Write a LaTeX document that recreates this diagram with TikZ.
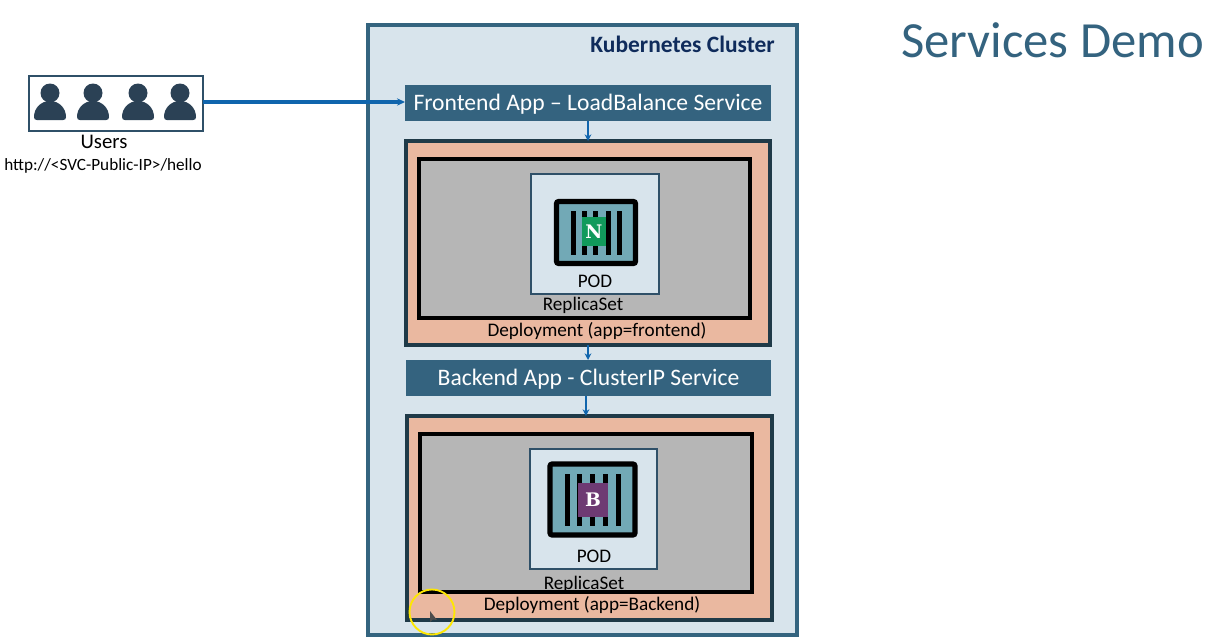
\documentclass[tikz,border=0pt]{standalone}
\usepackage{fontspec}
\setmainfont{Carlito}
\newfontfamily\appfont{DejaVu Serif}
\definecolor{clusterfill}{HTML}{D8E4EC}
\definecolor{clusterline}{HTML}{34647F}
\definecolor{svcfill}{HTML}{34637F}
\definecolor{depfill}{HTML}{EAB8A0}
\definecolor{depline}{HTML}{1F3A48}
\definecolor{rsfill}{HTML}{B6B6B6}
\definecolor{podline}{HTML}{2F5068}
\definecolor{ctfill}{HTML}{72A9B6}
\definecolor{arrowblue}{HTML}{1065AD}
\definecolor{person}{HTML}{2B4155}
\definecolor{titleblue}{HTML}{34637F}
\definecolor{clustertext}{HTML}{0F2B5B}
\definecolor{ngreen}{HTML}{119A5B}
\definecolor{bpurple}{HTML}{6E3A73}
\newcommand{\pxbox}[7]{%
  \pgfmathsetmacro{\bw}{(#5-#3)*0.75}%
  \pgfmathsetmacro{\bh}{(#6-#4)*0.75}%
  \pgfmathsetmacro{\bx}{(#3+#5)/2}%
  \pgfmathsetmacro{\by}{(#4+#6)/2}%
  \node[#2,minimum width=\bw pt,minimum height=\bh pt] (#1) at (\bx,\by) {#7};}
\newcommand{\personicon}[1]{%
  \fill[person,shift={(#1,0)}] (0,93) circle (9.5);
  \fill[person,shift={(#1,0)}] (-16,117) .. controls (-16,108) and (-9,101) .. (0,101)
     .. controls (9,101) and (16,108) .. (16,117)
     .. controls (16,119) and (15,120) .. (13,120) -- (-13,120)
     .. controls (-15,120) and (-16,119) .. (-16,117) -- cycle;}
\newcommand{\bars}[3]{\foreach \xx in {#1} \fill[black] (\xx-2.5,#2) rectangle (\xx+2.5,#3);}
\usetikzlibrary{arrows.meta}
\tikzset{
  x=0.75pt,y=-0.75pt,
  basebox/.style={rectangle,inner sep=0pt,outer sep=0pt},
  clusterbox/.style={basebox,draw=clusterline,fill=clusterfill,line width=3pt},
  svcbox/.style={basebox,fill=svcfill,text=white,font=\fontsize{17.7pt}{20pt}\selectfont},
  depbox/.style={basebox,draw=depline,fill=depfill,line width=2.4pt},
  rsbox/.style={basebox,draw=black,fill=rsfill,line width=2.3pt},
  podbox/.style={basebox,draw=podline,fill=clusterfill,line width=1.3pt},
  ctbox/.style={basebox,draw=black,fill=ctfill,line width=3.8pt,rounded corners=1.5pt},
  userbox/.style={basebox,draw=podline,line width=1.5pt},
  lab/.style={inner sep=0pt,outer sep=0pt,text=black,font=\fontsize{14.4pt}{16pt}\selectfont},
  applabel/.style={basebox,text=white,font=\fontsize{14pt}{15pt}\appfont\bfseries},
  flow/.style={draw=arrowblue,line width=1.5pt,-{Stealth[length=5pt,width=5pt]}},
  mainflow/.style={draw=arrowblue,line width=2.3pt,-{Stealth[length=6pt,width=5.5pt]}},
}
\begin{document}
\begin{tikzpicture}
\useasboundingbox (0,0) rectangle (1210,639);
\fill[white] (0,0) rectangle (1210,639);
\pxbox{cluster}{clusterbox}{368}{25}{797}{635}{}
\node[inner sep=0pt,text=clustertext,font=\fontsize{17.6pt}{19pt}\selectfont\bfseries,anchor=east] (clusterlab) at (775,44) {Kubernetes Cluster};
\node[inner sep=0pt,text=titleblue,font=\fontsize{38pt}{42pt}\selectfont,anchor=east] (title) at (1204,40) {Services Demo};
% users
\pxbox{users}{userbox}{29}{76}{203}{131}{}
\personicon{50}\personicon{93}\personicon{138}\personicon{180}
\node[lab,font=\fontsize{15.6pt}{17pt}\selectfont] (userslab) at (104,142) {Users};
\node[lab,font=\fontsize{12.9pt}{14pt}\selectfont] (url) at (103,166) {http://<SVC-Public-IP>/hello};
% frontend
\pxbox{fesvc}{svcbox}{405}{85}{771}{121}{\raisebox{-5.3pt}[0pt][0pt]{Frontend App – LoadBalance Service}}
\pxbox{dep1}{depbox}{406}{141}{770}{345}{}
\pxbox{rs1}{rsbox}{419}{159}{750}{318}{}
\pxbox{pod1}{podbox}{531}{174}{659}{294}{}
\pxbox{ct1}{ctbox}{556.5}{201.5}{635.5}{263.5}{}
\bars{573,584,595,608,619}{211}{255}
\pxbox{app1}{basebox,fill=ngreen,applabel}{582}{217}{606}{246}{N}
\node[lab] (pod1lab) at (595,281) {POD};
\node[lab] (rs1lab) at (583,305.5) {ReplicaSet};
\node[lab] (dep1lab) at (597,331.5) {Deployment (app=frontend)};
% backend
\pxbox{besvc}{svcbox}{406}{360}{771}{396}{\raisebox{-5.3pt}[0pt][0pt]{Backend App - ClusterIP Service}}
\pxbox{dep2}{depbox}{407}{416}{772}{620}{}
\pxbox{rs2}{rsbox}{420}{434}{752}{592}{}
\pxbox{pod2}{podbox}{530}{449}{657}{569}{}
\pxbox{ct2}{ctbox}{550}{464}{635}{535}{}
\bars{567,579,592,605,618}{474}{526}
\pxbox{app2}{basebox,fill=bpurple,applabel}{578}{483}{608}{517}{B}
\node[lab] (pod2lab) at (594,556) {POD};
\node[lab] (rs2lab) at (584,584.5) {ReplicaSet};
\node[lab] (dep2lab) at (592,605) {Deployment (app=Backend)};
% connectors
\draw[mainflow] (users.east |- 0,102) -- (fesvc.west |- 0,102);
\draw[flow] (fesvc.south) -- (dep1.north);
\draw[flow] (dep1.south) -- (besvc.north -| dep1.south);
\draw[flow] ([xshift=-1.9pt]besvc.south) -- ([xshift=-1.9pt]besvc.south |- dep2.north);
% pointer highlight
\coordinate (ptr) at (432,612);
\draw[yellow!90!orange,line width=1.4pt] (ptr) circle (22.5);
\fill[black!70] (430,611) -- (430,622) -- (433,619.5) -- (437,620) -- cycle;
\end{tikzpicture}
\end{document}
